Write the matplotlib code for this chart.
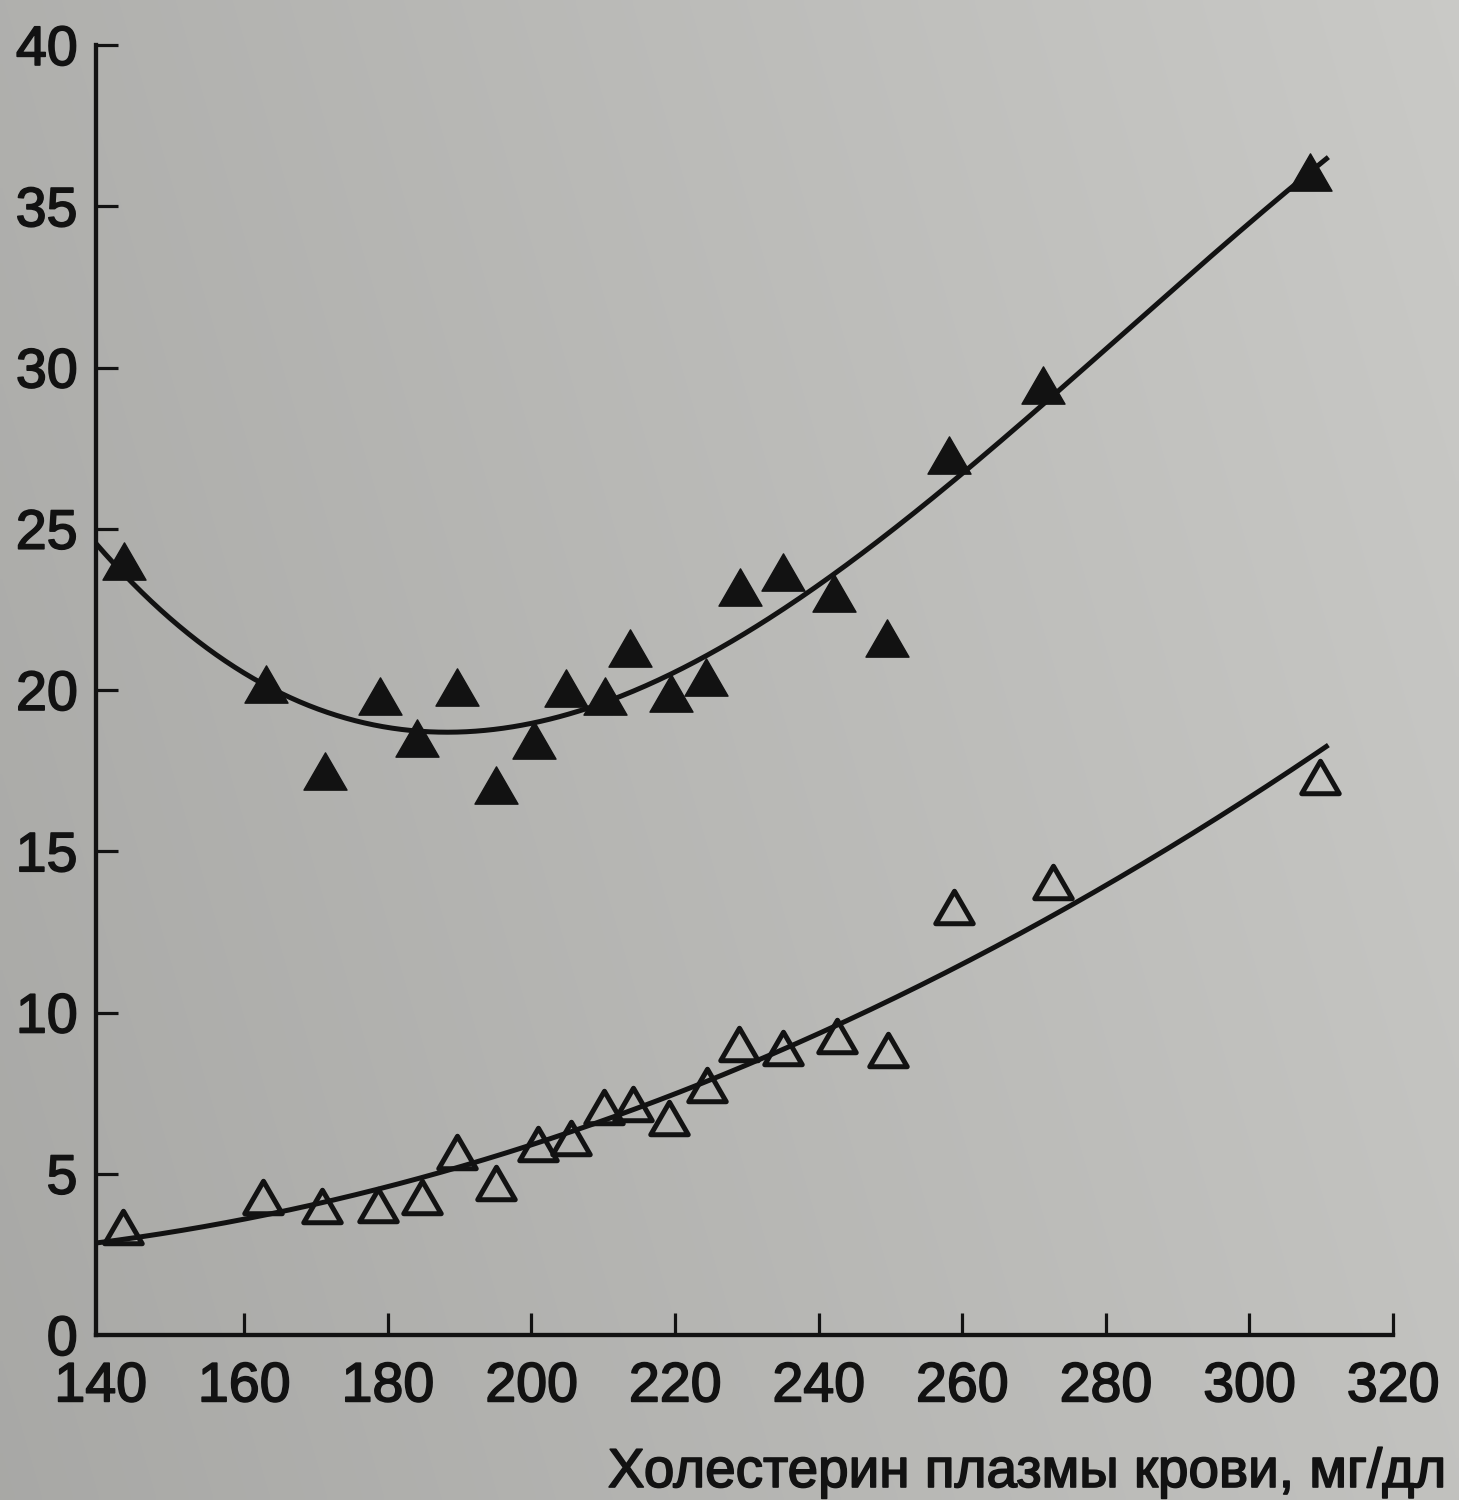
import numpy as np
import matplotlib
matplotlib.use("Agg")
import matplotlib.pyplot as plt
import matplotlib.patheffects as pe
from matplotlib.path import Path
from matplotlib.markers import MarkerStyle

# Plasma cholesterol (mg/dl) for each group, and the two measured indices
chol_filled = [143.2, 163.1, 171.3, 178.9, 184.1, 189.6, 195.0, 200.4, 204.8, 210.2,
               213.8, 219.5, 224.3, 229.0, 235.1, 242.1, 249.5, 258.1, 271.2, 308.4]
value_filled = [24.0, 20.2, 17.5, 19.8, 18.5, 20.1, 17.05, 18.45, 20.05, 19.8,
                21.3, 19.9, 20.4, 23.2, 23.65, 23.0, 21.6, 27.3, 29.45, 36.05]

chol_open = [143.1, 162.6, 170.9, 178.6, 184.8, 189.6, 195.0, 200.9, 205.5, 210.1,
             214.1, 219.1, 224.5, 228.9, 235.0, 242.6, 249.6, 258.9, 272.7, 309.8]
value_open = [3.35, 4.28, 4.0, 4.03, 4.28, 5.67, 4.7, 5.92, 6.1, 7.07,
              7.16, 6.72, 7.75, 9.02, 8.9, 9.27, 8.84, 13.27, 14.05, 17.3]

x_ticks = [140, 160, 180, 200, 220, 240, 260, 280, 300, 320]
y_ticks = [0, 5, 10, 15, 20, 25, 30, 35, 40]
x_label = "Холестерин плазмы крови, мг/дл"

INK = "#121212"
plt.rcParams["font.family"] = ["Liberation Sans", "DejaVu Sans"]
ink_stroke = [pe.withStroke(linewidth=1.2, foreground=INK)]

W, H, DPI = 1459, 1500, 100
fig = plt.figure(figsize=(W / DPI, H / DPI), dpi=DPI)
fig.patch.set_facecolor("#b6b6b2")

# paper-like backdrop, a little lighter towards the upper right
bg = fig.add_axes([0, 0, 1, 1], zorder=-10)
u = np.linspace(0, 1, 300)[None, :]
v = np.linspace(0, 1, 300)[:, None]
shade = 0.66 + 0.10 * u + 0.03 * (1 - v)
rgb = np.dstack([shade, shade, shade * 0.985])
bg.imshow(rgb, aspect="auto", extent=[0, 1, 0, 1], interpolation="bilinear")
bg.set_axis_off()

x_lo, x_hi = 139.3, 320.0
left_px, right_px = 95.6, 1393.0
bottom_px, top_px = 1335.0, 45.0
ax = fig.add_axes([left_px / W, 1 - bottom_px / H,
                   (right_px - left_px) / W, (bottom_px - top_px) / H])
ax.patch.set_alpha(0)
ax.set_xlim(x_lo, x_hi)
ax.set_ylim(0, 40)

for side in ("top", "right"):
    ax.spines[side].set_visible(False)
for side in ("left", "bottom"):
    ax.spines[side].set_linewidth(3.1)
    ax.spines[side].set_color(INK)

ax.set_xticks(x_ticks)
ax.set_xticklabels([str(t) for t in x_ticks])
ax.set_yticks(y_ticks)
ax.set_yticklabels([str(t) for t in y_ticks])
ax.tick_params(axis="both", direction="in", length=16, width=2.3, color=INK,
               labelsize=40, labelcolor=INK)
ax.tick_params(axis="x", pad=19)
ax.tick_params(axis="y", pad=13)
ax.xaxis.get_major_ticks()[0].tick1line.set_visible(False)
ax.yaxis.get_major_ticks()[0].tick1line.set_visible(False)
for lab in ax.get_xticklabels() + ax.get_yticklabels():
    lab.set_path_effects(ink_stroke)

# least-squares trends: cubic for the upper series, quadratic for the lower
xx = np.linspace(x_lo, 311.0, 400)
for xs, ys, deg in ((chol_filled, value_filled, 3), (chol_open, value_open, 2)):
    coef = np.polyfit(xs, ys, deg)
    ax.plot(xx, np.polyval(coef, xx), color=INK, lw=3.6, zorder=3,
            solid_capstyle="butt")

tri = Path([(-1.0, -0.866), (1.0, -0.866), (0.0, 0.866), (-1.0, -0.866)],
           [Path.MOVETO, Path.LINETO, Path.LINETO, Path.CLOSEPOLY])
tri_marker = MarkerStyle(tri, joinstyle="miter")

ax.plot(chol_filled, value_filled, linestyle="none", marker=tri_marker,
        markersize=31, markerfacecolor=INK, markeredgecolor=INK,
        markeredgewidth=1.0, zorder=4, clip_on=False)
ax.plot(chol_open, value_open, linestyle="none", marker=tri_marker,
        markersize=27, markerfacecolor="none", markeredgecolor=INK,
        markeredgewidth=3.6, zorder=4, clip_on=False)

fig.text(1446 / W, 1 - 1487 / H, x_label, ha="right", va="baseline",
         fontsize=39.5, color=INK, path_effects=ink_stroke)

fig.savefig("out.png", dpi=DPI, facecolor=fig.get_facecolor())
